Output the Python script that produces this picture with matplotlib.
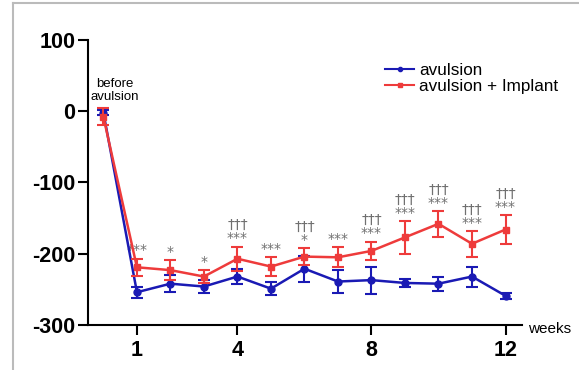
import matplotlib.pyplot as plt
from matplotlib.lines import Line2D

plt.rcParams["font.family"] = ["Liberation Sans", "DejaVu Sans"]
plt.rcParams["axes.unicode_minus"] = False

weeks = [0, 1, 2, 3, 4, 5, 6, 7, 8, 9, 10, 11, 12]
avulsion = [-2, -254, -242, -246, -232, -249, -221, -239, -237, -241, -242, -232, -259]
avulsion_err = [4, 8, 12, 9, 11, 9, 18, 16, 19, 6, 10, 14, 4]
implant = [-8, -219, -223, -232, -207, -218, -204, -205, -196, -177, -158, -186, -166]
implant_err = [12, 12, 14, 9, 17, 13, 12, 14, 13, 23, 18, 18, 20]
sig_labels = ["", "***", "*", "*", "†††\n***", "***", "†††\n*", "***",
              "†††\n***", "†††\n***", "†††\n***", "†††\n***", "†††\n***"]
xticks = [1, 4, 8, 12]
yticks = [100, 0, -100, -200, -300]

blue = "#1a1ab4"
red = "#ee3b3b"

fig = plt.figure(figsize=(5.79, 3.70), dpi=100)
ax = fig.add_axes([0.152, 0.1216, 0.75, 0.7704])

ax.errorbar(weeks, avulsion, yerr=avulsion_err, color=blue, marker="o", markersize=5,
            linewidth=1.8, capsize=4, elinewidth=1.5, capthick=1.5, label="avulsion", zorder=3)
ax.errorbar(weeks, implant, yerr=implant_err, color=red, marker="s", markersize=4.5,
            linewidth=1.8, capsize=4, elinewidth=1.5, capthick=1.5, label="avulsion + Implant", zorder=4)

# significance marks above the implant error bars
for x, y, e, s in zip(weeks, implant, implant_err, sig_labels):
    if s:
        ax.annotate(s, (x, y + e), xytext=(0, 1), textcoords="offset points",
                    ha="center", va="bottom", fontsize=10, color="#707070",
                    linespacing=0.9, family=["DejaVu Sans"])

ax.text(0.35, 12, "before\navulsion", ha="center", va="bottom", fontsize=9.5, linespacing=1.05)

ax.set_xlim(-0.46, 12.5)
ax.set_ylim(-300, 100)
ax.set_xticks(xticks)
ax.set_yticks(yticks)
ax.tick_params(axis="both", labelsize=15.5, width=1.5, length=7)
ax.tick_params(axis="x", pad=4)
ax.tick_params(axis="y", pad=2)
for lab in ax.get_xticklabels() + ax.get_yticklabels():
    lab.set_fontweight("bold")
ax.spines["top"].set_visible(False)
ax.spines["right"].set_visible(False)
ax.spines["left"].set_linewidth(1.5)
ax.spines["bottom"].set_linewidth(1.5)

fig.text(0.912, 0.111, "weeks", fontsize=11, va="center", ha="left")

handles = [Line2D([], [], color=blue, marker="o", markersize=3, linewidth=1.5),
           Line2D([], [], color=red, marker="s", markersize=3, linewidth=1.5)]
ax.legend(handles, ["avulsion", "avulsion + Implant"], loc="upper left",
          bbox_to_anchor=(0.665, 0.95), frameon=False, fontsize=12.3,
          handlelength=1.7, handletextpad=0.3, labelspacing=0.1, borderpad=0)

# light grey frame around the picture
fig.add_artist(Line2D([13 / 579, 13 / 579], [0, 1 - 3 / 370], color="#bbbbbb", linewidth=1.5,
                      transform=fig.transFigure))
fig.add_artist(Line2D([13 / 579, 1], [1 - 3 / 370, 1 - 3 / 370], color="#bbbbbb", linewidth=1.5,
                      transform=fig.transFigure))

plt.savefig("out.png", dpi=100)
